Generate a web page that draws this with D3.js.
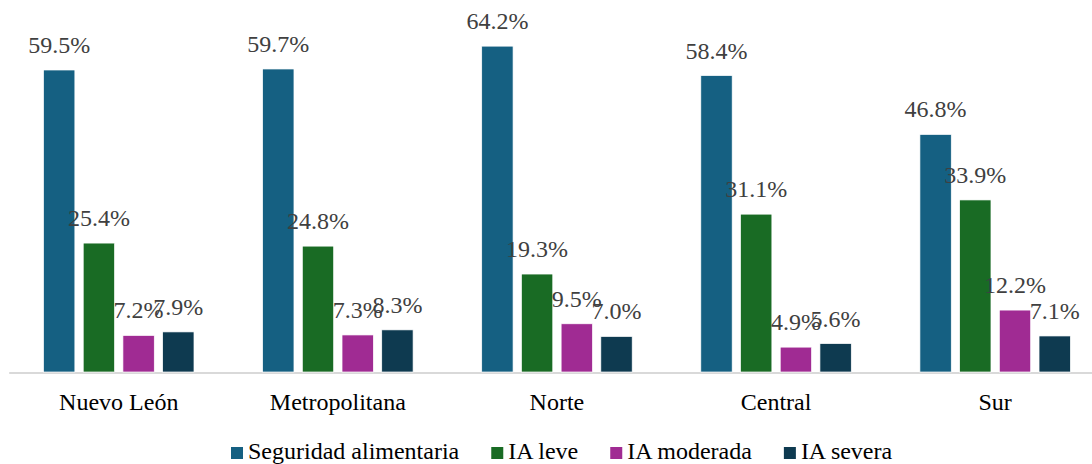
<!DOCTYPE html>
<html>
<head>
<meta charset="utf-8">
<script src="https://cdn.jsdelivr.net/npm/d3@7"></script>
<style>
  html, body { margin: 0; padding: 0; background: #fff; }
  svg { display: block; }
</style>
</head>
<body>
<svg id="chart" width="1092" height="464"></svg>
<script>
const categories = ["Nuevo León", "Metropolitana", "Norte", "Central", "Sur"];
const seriesNames = ["Seguridad alimentaria", "IA leve", "IA moderada", "IA severa"];
const seguridad = [59.5, 59.7, 64.2, 58.4, 46.8];
const iaLeve = [25.4, 24.8, 19.3, 31.1, 33.9];
const iaModerada = [7.2, 7.3, 9.5, 4.9, 12.2];
const iaSevera = [7.9, 8.3, 7.0, 5.6, 7.1];
const colors = ["#156082", "#196B24", "#A02B93", "#0E3A50"];
const FONT = "'Liberation Serif', serif";

const seriesValues = [seguridad, iaLeve, iaModerada, iaSevera];
const data = categories.map((c, i) => ({
  cat: c,
  vals: seriesNames.map((s, j) => ({ key: s, idx: j, v: seriesValues[j][i] }))
}));

const svg = d3.select("#chart");
const baseY = 372;

const x0 = d3.scaleBand().domain(categories).range([9.2, 1104.7]).padding(0);
const x1 = d3.scaleBand().domain(seriesNames).range([0, x0.bandwidth()])
  .paddingInner(0.21).paddingOuter(0.864);
const y = d3.scaleLinear().domain([0, 59.5]).range([baseY, 70]);

// axis line
svg.append("line")
  .attr("x1", 9.2).attr("x2", 1104.7)
  .attr("y1", baseY + 1).attr("y2", baseY + 1)
  .attr("stroke", "#d9d9d9").attr("stroke-width", 2);

const g = svg.selectAll("g.grp").data(data).enter().append("g")
  .attr("class", "grp")
  .attr("transform", d => `translate(${x0(d.cat)},0)`);

g.selectAll("rect").data(d => d.vals).enter().append("rect")
  .attr("x", d => x1(d.key))
  .attr("width", x1.bandwidth())
  .attr("y", d => y(d.v))
  .attr("height", d => baseY - y(d.v))
  .attr("fill", d => colors[d.idx])
  .attr("stroke", "#ffffff")
  .attr("stroke-width", 0.7);

g.selectAll("text.val").data(d => d.vals).enter().append("text")
  .attr("class", "val")
  .attr("x", d => x1(d.key) + x1.bandwidth() / 2)
  .attr("y", d => y(d.v) - 17)
  .attr("text-anchor", "middle")
  .style("font-family", FONT)
  .style("font-size", "24px")
  .attr("fill", "#404040")
  .text(d => d.v.toFixed(1) + "%");

// category labels
svg.selectAll("text.cat").data(categories).enter().append("text")
  .attr("class", "cat")
  .attr("x", d => x0(d) + x0.bandwidth() / 2)
  .attr("y", 409.5)
  .attr("text-anchor", "middle")
  .style("font-family", FONT)
  .style("font-size", "24px")
  .attr("fill", "#000000")
  .text(d => d);

// legend
const legend = svg.append("g");
let lx = 231;
seriesNames.forEach((s, j) => {
  legend.append("rect")
    .attr("x", lx).attr("y", 447)
    .attr("width", 12).attr("height", 12)
    .attr("fill", colors[j]);
  const t = legend.append("text")
    .attr("x", lx + 17).attr("y", 459)
    .style("font-family", FONT)
    .style("font-size", "24px")
    .attr("fill", "#000000")
    .text(s);
  const w = t.node().getComputedTextLength();
  lx = lx + 17 + w + 32;
});
</script>
</body>
</html>
